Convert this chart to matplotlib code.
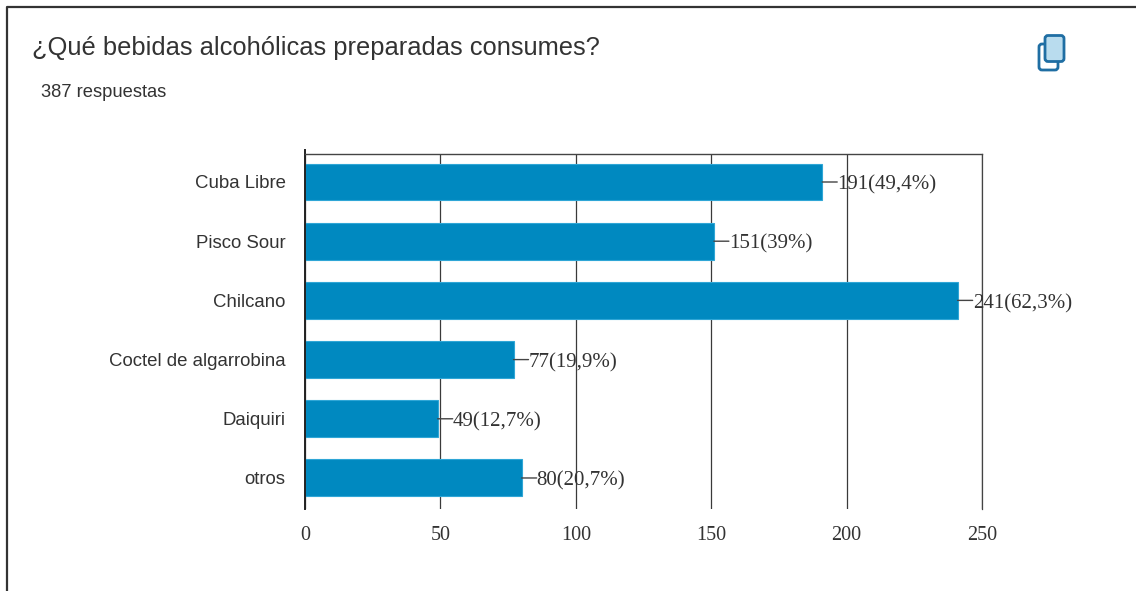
import matplotlib
matplotlib.use("Agg")
import matplotlib.pyplot as plt
from matplotlib.patches import FancyBboxPatch
from matplotlib.lines import Line2D

categories = ["Cuba Libre", "Pisco Sour", "Chilcano", "Coctel de algarrobina", "Daiquiri", "otros"]
counts = [191, 151, 241, 77, 49, 80]
percents = ["49,4", "39", "62,3", "19,9", "12,7", "20,7"]
ticks = [0, 50, 100, 150, 200, 250]

W, H = 1136, 591
fig = plt.figure(figsize=(W / 100, H / 100), dpi=100, facecolor="white")

# overlay in pixel coordinates for the frame, headings and copy icon
bg = fig.add_axes([0, 0, 1, 1], zorder=0)
bg.set_xlim(0, W)
bg.set_ylim(H, 0)
bg.axis("off")
bg.add_line(Line2D([7, 7, W], [H, 7, 7], color="#333333", lw=1.6))
bg.text(32, 47.5, "¿Qué bebidas alcohólicas preparadas consumes?", fontsize=18.4,
        family="Liberation Sans", color="#333333", va="center", ha="left")
bg.text(41, 92.5, "387 respuestas", fontsize=13.2, family="Liberation Sans",
        color="#333333", va="center", ha="left")

# copy icon: back sheet, then front sheet
bg.add_patch(FancyBboxPatch((1039, 44), 19, 26, boxstyle="round,pad=0,rounding_size=3",
                            fc="white", ec="#1f6ea3", lw=2))
bg.add_patch(FancyBboxPatch((1045, 35.5), 19, 26, boxstyle="round,pad=0,rounding_size=3",
                            fc="#b9dcee", ec="#1f6ea3", lw=2))

# bar chart area: 0-250 spans x 305-982, top 154, bottom 509
ax = fig.add_axes([305 / W, 1 - 509 / H, (982 - 305) / W, (509 - 154) / H], zorder=1)
ax.patch.set_alpha(0)
y = list(range(len(categories)))
ax.barh(y, counts, height=0.625, color="#0089c0", edgecolor="#2fa6d6", lw=0.8, zorder=2)
ax.set_xlim(0, 250)
ax.set_ylim(5.524, -0.473)

ax.set_xticks(ticks)
ax.set_yticks(y)
ax.set_yticklabels(categories, family="Liberation Sans", fontsize=13.4, color="#333333")
for lab in ax.get_xticklabels():
    lab.set_family("Liberation Serif")
    lab.set_fontsize(14.5)
    lab.set_color("#333333")
ax.tick_params(axis="y", length=0, pad=14)
ax.tick_params(axis="x", length=0, pad=12)
ax.grid(axis="x", color="#3a3a3a", lw=0.9, zorder=1)
ax.set_axisbelow(True)

ax.spines["bottom"].set_visible(False)
ax.spines["right"].set_color("#444444")
ax.spines["right"].set_linewidth(0.9)
ax.spines["top"].set_color("#444444")
ax.spines["top"].set_linewidth(1.0)
ax.spines["left"].set_color("#222222")
ax.spines["left"].set_linewidth(1.4)
ax.spines["left"].set_bounds(5.524, -0.54)

# value labels with a short leader from the bar end
for i in y:
    ax.annotate("", xy=(counts[i], i), xytext=(15, 0), textcoords="offset pixels",
                arrowprops=dict(arrowstyle="-", color="#444444", lw=1, shrinkA=0, shrinkB=0),
                annotation_clip=False)
    ax.annotate(f"{counts[i]}({percents[i]}%)", xy=(counts[i], i), xytext=(15, -3),
                textcoords="offset pixels", va="center", ha="left",
                family="Liberation Serif", fontsize=15, color="#333333",
                annotation_clip=False, zorder=3)

fig.savefig("out.png", dpi=100)
